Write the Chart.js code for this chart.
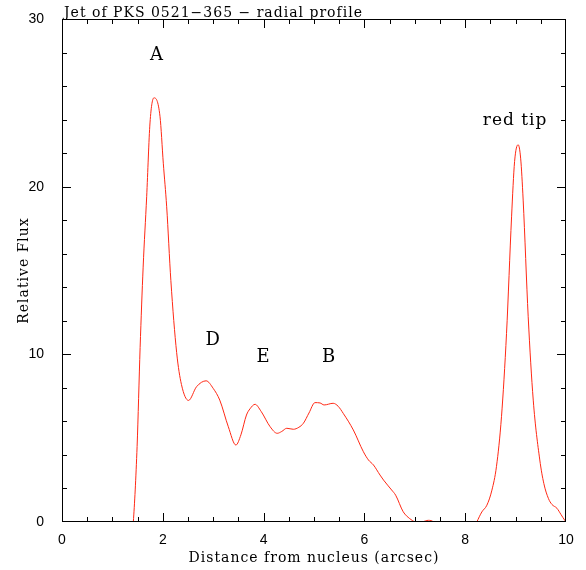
<!DOCTYPE html>
<html>
<head>
<meta charset="UTF-8">
<title>Jet of PKS 0521-365 - radial profile</title>
<script src="https://cdn.jsdelivr.net/npm/chart.js"></script>
<style>
  html, body { margin: 0; padding: 0; background: #fff; }
  #wrap { width: 586px; height: 570px; }
</style>
</head>
<body>
<div id="wrap"><canvas id="c"></canvas></div>
<script>
// radial profile (x in arcsec, relative flux)
const distance = [1.30, 1.415, 1.49, 1.55, 1.61, 1.68, 1.746, 1.825, 1.944, 2.01, 2.077, 2.16, 2.275, 2.37, 2.51, 2.67, 2.86, 3.0, 3.13, 3.3, 3.45, 3.55, 3.66, 3.73, 3.83, 3.95, 4.13, 4.27, 4.36, 4.46, 4.59, 4.70, 4.79, 4.90, 5.02, 5.12, 5.2, 5.38, 5.48, 5.58, 5.78, 5.98, 6.08, 6.18, 6.31, 6.38, 6.54, 6.62, 6.77, 6.9, 7.0, 7.05, 7.15, 7.27, 7.37, 7.5, 7.8, 8.1, 8.23, 8.33, 8.43, 8.53, 8.62, 8.72, 8.82, 8.92, 8.98, 9.05, 9.10, 9.15, 9.25, 9.35, 9.48, 9.56, 9.65, 9.72, 9.82, 9.9, 9.98, 10.0];
const flux = [-3, 0, 4.5, 10.4, 15.2, 19.4, 23.8, 25.3, 24.2, 21.4, 18.8, 14.4, 10.1, 8.2, 7.25, 8.07, 8.42, 7.97, 7.27, 5.68, 4.59, 5.2, 6.38, 6.75, 7.02, 6.6, 5.68, 5.29, 5.4, 5.59, 5.53, 5.65, 5.89, 6.5, 7.12, 7.1, 6.98, 7.08, 6.9, 6.48, 5.49, 4.19, 3.7, 3.4, 2.8, 2.5, 1.91, 1.6, 0.61, 0.2, 0.0, -0.1, 0.0, 0.1, 0.0, -0.6, -1.5, -0.8, 0.0, 0.6, 1.0, 1.9, 3.3, 6.28, 11.25, 18.2, 21.5, 22.5, 21.7, 19.2, 12.24, 7.27, 3.7, 2.3, 1.41, 1.05, 0.82, 0.45, 0.08, 0];

const featureNames = ['A', 'D', 'E', 'B', 'red tip'];
const featureX = [1.885, 3.0, 4.0, 5.3, 8.99];
const featureY = [27.85, 10.85, 9.85, 9.85, 23.95];

const serif = '"DejaVu Serif", "Liberation Serif", serif';
const sans = '"Liberation Sans", Arial, sans-serif';

const frame = {
  id: 'frame',
  afterDatasetsDraw(chart) {
    const { ctx, chartArea: a, scales: { x, y } } = chart;
    ctx.save();
    ctx.strokeStyle = '#000';
    ctx.lineWidth = 1;
    ctx.strokeRect(a.left + 0.5, a.top + 0.5, a.right - a.left - 1, a.bottom - a.top - 1);
    ctx.beginPath();
    for (let v = 0.5; v < 10; v += 0.5) {
      const px = Math.round(x.getPixelForValue(v)) + 0.5;
      const len = v % 2 === 0 ? 9 : 5;
      ctx.moveTo(px, a.bottom); ctx.lineTo(px, a.bottom - len);
      ctx.moveTo(px, a.top); ctx.lineTo(px, a.top + len);
    }
    for (let v = 2; v < 30; v += 2) {
      const py = Math.round(y.getPixelForValue(v)) + 0.5;
      const len = v % 10 === 0 ? 9 : 5;
      ctx.moveTo(a.left, py); ctx.lineTo(a.left + len, py);
      ctx.moveTo(a.right, py); ctx.lineTo(a.right - len, py);
    }
    ctx.stroke();

    ctx.fillStyle = '#000';
    ctx.letterSpacing = '1px';
    ctx.font = '14px ' + serif;
    ctx.textAlign = 'left';
    ctx.textBaseline = 'alphabetic';
    ctx.fillText('Jet of PKS 0521\u2212365 \u2212 radial profile', a.left + 2, a.top - 2);

    // axis titles
    ctx.textAlign = 'center';
    ctx.fillText('Distance from nucleus (arcsec)', (a.left + a.right) / 2, 562);
    ctx.save();
    ctx.translate(28, (a.top + a.bottom) / 2);
    ctx.rotate(-Math.PI / 2);
    ctx.fillText('Relative Flux', 0, 0);
    ctx.restore();

    ctx.textBaseline = 'middle';
    featureNames.forEach((t, i) => {
      ctx.font = (t.length > 1 ? '17px ' : '18px ') + serif;
      ctx.fillText(t, x.getPixelForValue(featureX[i]), y.getPixelForValue(featureY[i]));
    });
    ctx.restore();
  }
};

new Chart(document.getElementById('c'), {
  type: 'line',
  data: {
    datasets: [{
      data: distance.map((d, i) => ({ x: d, y: flux[i] })),
      borderColor: 'rgb(255,40,20)',
      borderWidth: 1,
      pointRadius: 0,
      cubicInterpolationMode: 'monotone',
      fill: false
    }]
  },
  options: {
    responsive: true,
    maintainAspectRatio: false,
    animation: false,
    layout: { padding: { top: 19, right: 20, left: 0, bottom: 0 } },
    plugins: { legend: { display: false }, tooltip: { enabled: false } },
    scales: {
      x: {
        type: 'linear', min: 0, max: 10,
        grid: { display: false },
        border: { display: false },
        ticks: { stepSize: 2, color: '#000', font: { family: sans, size: 14 }, padding: 2, maxRotation: 0 },
        afterFit: s => { s.height = 48; }
      },
      y: {
        min: 0, max: 30,
        grid: { display: false },
        border: { display: false },
        ticks: { stepSize: 10, color: '#000', font: { family: sans, size: 14 }, padding: 10 },
        afterFit: s => { s.width = 62; }
      }
    }
  },
  plugins: [frame]
});
</script>
</body>
</html>
